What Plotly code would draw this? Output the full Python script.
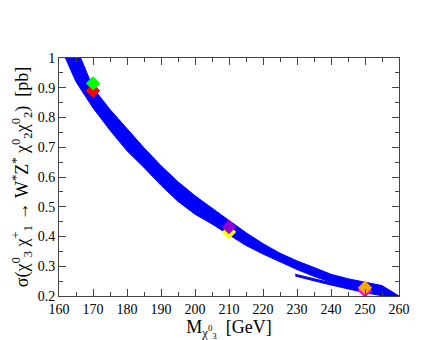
import plotly.graph_objects as go

# upper (right) edge of the main band
band_top_x = [166.4, 170, 175, 180, 185, 190, 195, 200, 205, 210, 215, 220, 225, 230, 235, 240, 245, 250, 255, 260]
band_top_y = [1.0, 0.90, 0.827, 0.762, 0.698, 0.638, 0.584, 0.537, 0.494, 0.454, 0.413, 0.376, 0.344, 0.318, 0.296, 0.273, 0.258, 0.247, 0.235, 0.2]

# lower (left) edge of the main band
band_bot_x = [161.9, 165, 170, 175, 180, 185, 190, 195, 200, 205, 210, 215, 220, 225, 230, 235, 240, 245, 250, 255, 260]
band_bot_y = [1.0, 0.92, 0.832, 0.757, 0.688, 0.632, 0.572, 0.518, 0.475, 0.442, 0.406, 0.370, 0.341, 0.314, 0.289, 0.266, 0.245, 0.226, 0.213, 0.205, 0.198]

# thin secondary strip
strip_x = [229.5, 235, 240, 245, 250, 255, 260]
strip_top = [0.273, 0.258, 0.244, 0.230, 0.217, 0.206, 0.199]
strip_bot = [0.267, 0.251, 0.237, 0.223, 0.211, 0.201, 0.196]

# benchmark points (drawn in this order)
pt_x = [170, 170, 210, 210, 250, 250]
pt_y = [0.89, 0.915, 0.415, 0.432, 0.218, 0.228]
pt_col = ['#ff0000', '#00ff00', '#ffff00', '#9400d3', '#ff00ff', '#ffa500']

fig = go.Figure()

fig.add_trace(go.Scatter(
    x=band_top_x + band_bot_x[::-1],
    y=band_top_y + band_bot_y[::-1],
    fill='toself', fillcolor='#0000ff', mode='lines',
    line=dict(color='#0000ff', width=1), hoverinfo='skip'))

fig.add_trace(go.Scatter(
    x=strip_x + strip_x[::-1],
    y=strip_top + strip_bot[::-1],
    fill='toself', fillcolor='#0000ff', mode='lines',
    line=dict(color='#0000ff', width=1), hoverinfo='skip'))

for x, y, c in zip(pt_x, pt_y, pt_col):
    fig.add_trace(go.Scatter(x=[x], y=[y], mode='markers',
                             marker=dict(symbol='diamond', size=11, color=c, line=dict(width=0))))

axis_common = dict(
    showgrid=False, zeroline=False, showline=True, linecolor='#444', linewidth=1,
    mirror='allticks', ticks='inside', ticklen=7, tickcolor='#444',
    tickfont=dict(family='Liberation Serif', size=14, color='black'),
)

fig.update_layout(
    width=440, height=340,
    margin=dict(l=51, r=49, t=50, b=52),
    paper_bgcolor='white', plot_bgcolor='white',
    showlegend=False,
    font=dict(family='Liberation Serif', color='black'),
    xaxis=dict(range=[160, 260], dtick=10,
               minor=dict(dtick=5, ticks='inside', ticklen=4, tickcolor='#444'),
               title=dict(text='M<sub>χ<sup>0</sup><sub>3</sub></sub>  [GeV]', font=dict(size=18), standoff=0),
               **axis_common),
    yaxis=dict(range=[0.2, 1], dtick=0.1,
               minor=dict(dtick=0.05, ticks='inside', ticklen=4, tickcolor='#444'),
               title=dict(text='σ(χ<sup>0</sup><sub>3</sub> χ<sup>+</sup><sub>1</sub> → W<sup>*</sup>Z<sup>*</sup> χ<sup>0</sup><sub>2</sub>χ<sup>0</sup><sub>2</sub>)  [pb]',
                          font=dict(size=18), standoff=4),
               **axis_common),
)

fig.write_html("out.html")
